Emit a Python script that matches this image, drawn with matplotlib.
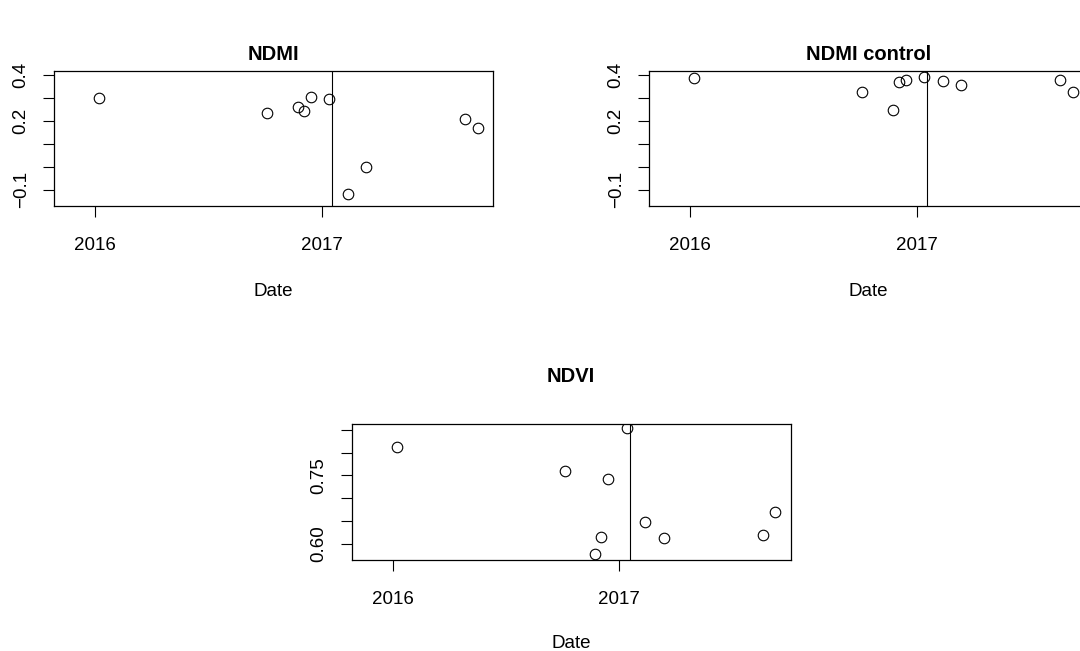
import matplotlib
matplotlib.use("Agg")
import matplotlib.pyplot as plt
import pandas as pd

plt.rcParams['font.family'] = ['Liberation Sans', 'DejaVu Sans']

# acquisition dates and index values
dates = ['2016-01-08', '2016-10-05', '2016-11-23', '2016-12-03', '2016-12-14',
         '2017-01-13', '2017-02-12', '2017-03-14', '2017-08-21', '2017-09-10']
ndmi = [0.298, 0.236, 0.259, 0.243, 0.303, 0.294, -0.120, 0.000, 0.207, 0.170]
ndmi_control = [0.385, 0.328, 0.246, 0.370, 0.379, 0.393, 0.376, 0.357, 0.377, 0.328]
ndvi = [0.813, 0.759, 0.5765, 0.6155, 0.741, 0.854, 0.647, 0.612, 0.619, 0.669]

event_date = '2017-01-18'
year_ticks = ['2016-01-01', '2017-01-01']
year_labels = ['2016', '2017']

ndmi_ticks = [-0.1, 0.0, 0.1, 0.2, 0.3, 0.4]
ndmi_labels = ['\u22120.1', '', '', '0.2', '', '0.4']
ndvi_ticks = [0.60, 0.65, 0.70, 0.75, 0.80, 0.85]
ndvi_labels = ['0.60', '', '', '0.75', '', '']

d = pd.to_datetime(dates)
ev = pd.to_datetime(event_date)
yt = pd.to_datetime(year_ticks)
xlim = (pd.Timestamp('2015-10-27'), pd.Timestamp('2017-10-05'))

W, H = 1080, 651
fig = plt.figure(figsize=(10.8, 6.51), dpi=100)


def box(l, t, r, b):
    return [l / W, 1 - b / H, (r - l) / W, (b - t) / H]


def panel(rect, y, title, yticks, ylabels, ylim, tpad, xlab_y):
    ax = fig.add_axes(rect)
    ax.plot(d, y, 'o', mfc='none', mec='black', ms=7.6, mew=0.8)
    ax.axvline(ev, color='black', lw=0.8)
    ax.set_xlim(*xlim)
    ax.set_ylim(*ylim)
    ax.set_xticks(yt)
    ax.set_xticklabels(year_labels)
    ax.set_yticks(yticks)
    ax.set_yticklabels(ylabels, rotation=90, va='center')
    ax.tick_params(length=8, width=0.8, labelsize=13.5, color='black')
    ax.tick_params(axis='x', pad=14.5)
    ax.tick_params(axis='y', pad=9.5)
    for s in ax.spines.values():
        s.set_linewidth(0.9)
    ax.set_title(title, fontsize=14.5, fontweight='bold', pad=tpad)
    ax.set_xlabel('Date', fontsize=13.5)
    ax.xaxis.set_label_coords(0.5, xlab_y)
    return ax


panel(box(54, 70.7, 493.3, 205.7), ndmi, 'NDMI', ndmi_ticks, ndmi_labels,
      (-0.17, 0.419), 7.4, -0.57)
panel(box(649, 70.7, 1088.3, 205.7), ndmi_control, 'NDMI control', ndmi_ticks,
      ndmi_labels, (-0.17, 0.419), 7.4, -0.57)
panel(box(351.7, 424, 790.7, 560), ndvi, 'NDVI', ndvi_ticks, ndvi_labels,
      (0.564, 0.863), 30, -0.55)

fig.savefig('out.png', dpi=100)
